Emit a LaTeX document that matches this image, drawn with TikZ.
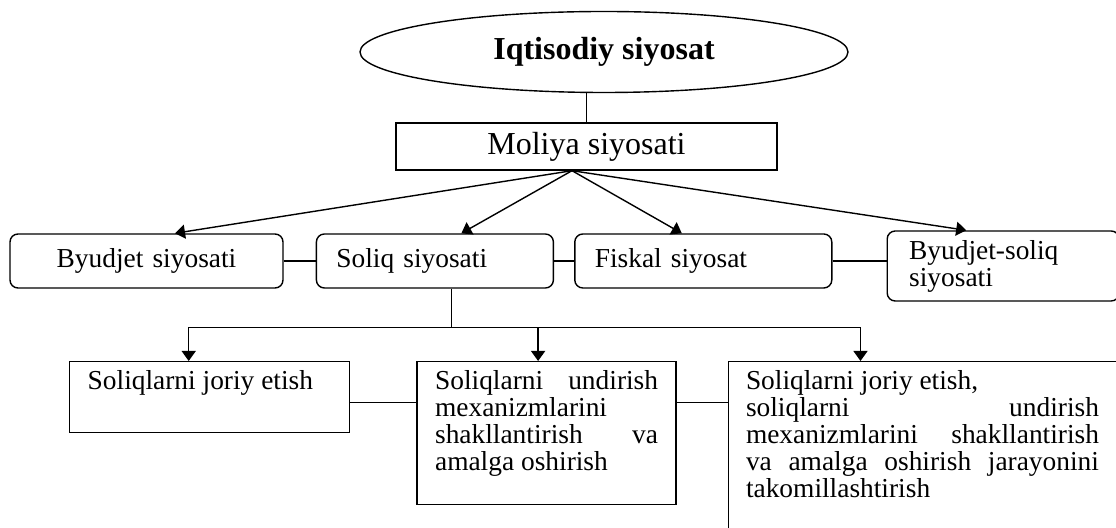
\documentclass[tikz,border=0pt]{standalone}
\usepackage{fontspec}
\setmainfont{Liberation Serif}
\usepackage{tikz}
\usetikzlibrary{shapes.geometric, arrows.meta, positioning}
\newcommand{\bodysize}{\fontsize{13.7pt}{13.5pt}\selectfont\normalbaselineskip=13.5pt}
\newcommand{\headsize}{\fontsize{16pt}{18pt}\selectfont}
\newcommand{\leaftext}[3]{\parbox[c][#2][t]{#1}{\bodysize\rule{0pt}{14pt}#3}}

\begin{document}
\begin{tikzpicture}[
    font=\bodysize,
    oval/.style={ellipse, draw, line width=0.7pt, minimum width=244pt, minimum height=40.5pt, inner sep=0pt},
    head/.style={draw, line width=0.7pt, minimum width=190.5pt, minimum height=23.5pt, inner sep=0pt},
    pill/.style={rounded corners=4pt, draw, line width=0.7pt, minimum height=27pt, inner xsep=10pt, inner ysep=2pt},
    leaf/.style={draw, line width=0.7pt, inner xsep=9pt, inner ysep=0pt},
    link/.style={line width=0.7pt},
    arr/.style={-{Triangle[length=5pt, width=7pt]}, line width=0.7pt}
  ]
    \useasboundingbox (0,0) rectangle (558pt,-264pt);
    \node[oval] (iqt) at (302pt,-26pt) {\headsize\bfseries Iqtisodiy siyosat};
    \node[head] (moliya) at (293.25pt,-73.25pt) {\headsize Moliya siyosati};
    \node[pill, text width=116.5pt, align=center] (byudjet) at (73.25pt,-130.5pt) {Byudjet siyosati};
    \node[pill, text width=98.5pt, align=left, right=16pt of byudjet] (soliq) {Soliq siyosati};
    \node[pill, text width=108.5pt, align=left, right=10pt of soliq] (fiskal) {Fiskal siyosat};
    \node[pill, minimum height=35pt, inner xsep=11pt, text width=94pt, align=left, right=27pt of fiskal, yshift=-2.5pt] (bs) {Byudjet-soliq\\siyosati};
    \node[leaf, anchor=north west] (b1) at (34.5pt,-180.5pt) {\leaftext{122pt}{35.5pt}{Soliqlarni joriy etish}};
    \node[leaf, right=33pt of b1.north east, anchor=north west] (b2) {\leaftext{111.5pt}{71.5pt}{Soliqlarni\hfill undirish\\ mexanizmlarini\\ shakllantirish\hfill va\\ amalga oshirish}};
    \node[leaf, inner xsep=8.75pt, right=25.5pt of b2.north east, anchor=north west] (b3) {\leaftext{176.5pt}{95pt}{Soliqlarni joriy etish,\\ soliqlarni\hfill undirish\\ mexanizmlarini\hfill shakllantirish\\ va\hfill amalga\hfill oshirish\hfill jarayonini\\ takomillashtirish}};

    \draw[link] (iqt.south -| moliya.north) -- (moliya.north);
    \coordinate (fan) at ([xshift=-7.25pt]moliya.south);
    \draw[arr] (fan) -- ([xshift=14.25pt]byudjet.north);
    \draw[arr] (fan) -- ([xshift=13.25pt]soliq.north);
    \draw[arr] (fan) -- ([xshift=-10.75pt]fiskal.north);
    \draw[arr] (fan) -- ([xshift=-18.5pt]bs.north);
    \draw[link] (byudjet) -- (soliq);
    \draw[link] (soliq) -- (fiskal);
    \draw[link] (fiskal.east) -- (fiskal.east -| bs.west);

    \draw[link] ([xshift=8.25pt]soliq.south) -- ++(0,-19.5pt) coordinate (bar);
    \draw[arr] (bar) -| ([xshift=-10.5pt]b1.north);
    \draw[arr] (bar) -| ([xshift=-4.25pt]b2.north);
    \draw[arr] (bar) -| ([xshift=-31pt]b3.north);
    \coordinate (mid) at ([yshift=-2.75pt]b1.east);
    \draw[link] (mid) -- (mid -| b2.west);
    \draw[link] (mid -| b2.east) -- (mid -| b3.west);
  \end{tikzpicture}
\end{document}
